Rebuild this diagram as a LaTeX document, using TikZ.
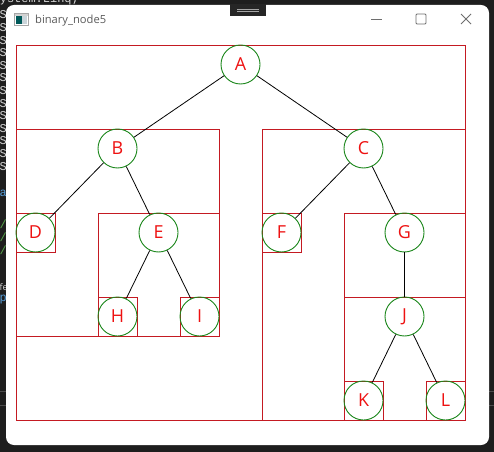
\documentclass[tikz,border=0pt]{standalone}
\usepackage{fontspec}
\setmainfont{Open Sans}
\newfontfamily\codefont{Liberation Mono}
\definecolor{bgdark}{HTML}{1E1E1E}
\definecolor{codegray}{HTML}{D4D4D4}
\definecolor{codeblue}{HTML}{569CD6}
\definecolor{codegreen}{HTML}{57A64A}
\definecolor{rectred}{HTML}{C41A22}
\definecolor{nodegreen}{HTML}{1A861A}
\definecolor{labelred}{HTML}{EE1111}
\definecolor{chromegray}{HTML}{6E6E6E}
\definecolor{titlegray}{HTML}{5A5A5A}
\tikzset{
  treenode/.style={circle, draw=nodegreen, line width=0.9bp, minimum size=39bp,
    inner sep=0pt, text=labelred, font=\fontsize{18}{18}\selectfont},
  edge/.style={draw=black, line width=0.8bp},
  boxline/.style={draw=rectred, line width=0.9bp},
  chrome/.style={draw=chromegray, line width=0.8bp},
  codetxt/.style={inner sep=0pt, anchor=west, font=\codefont\fontsize{12}{12}\selectfont}
}
\begin{document}
\begin{tikzpicture}[x=1bp,y=-1bp]
\useasboundingbox (0,0) rectangle (494,452);
% background editor
\fill[bgdark] (0,0) rectangle (494,452);
\draw[gray!60!black, line width=0.6bp] (0,391) -- (494,391);
\draw[gray!60!black, line width=0.6bp] (0,405) -- (494,405);
\node[codetxt, text=codegray] (topline) at (-7.5,-1) {System.Linq;};
\foreach \yy in {15,27.6,40.2,52.8,65.4,78,90.6,103.2,115.8,128.4,141,153.6,167}
  \node[codetxt, text=codegray] at (-0.5,\yy) {S};
\node[codetxt, text=codeblue] (ca) at (-0.5,193) {a};
\foreach \yy in {224,237,250}
  \node[codetxt, text=codegreen] at (-0.5,\yy) {/};
\node[codetxt, text=codegray, font=\fontsize{9}{9}\selectfont] (cf) at (-0.5,287) {fe};
\node[codetxt, text=codeblue] (cp) at (-0.5,300) {p};
% window
\fill[white, rounded corners=8bp] (6,5) rectangle (489,445);
% title bar handle
\fill[black!85] (230,4) rectangle (266,16);
\draw[gray!70, line width=0.6bp] (237,9) -- (259,9);
\draw[gray!70, line width=0.6bp] (237,11.5) -- (259,11.5);
% icon
\fill[white] (14.5,13.5) rectangle (28.5,25.5);
\fill[gray!35] (14.5,13.5) rectangle (28.5,16);
\fill[teal!70!black] (16,16.5) rectangle (21.5,24);
\fill[cyan!20!gray!40] (21.5,16.5) rectangle (27,24);
\draw[gray!70, line width=0.6bp] (14.5,13.5) rectangle (28.5,25.5);
\node[anchor=base west, inner sep=0pt, text=titlegray, font=\fontsize{11.2}{11.2}\selectfont] (title) at (35,24) {binary\_node5};
% window buttons
\draw[chrome] (371,19) -- (382,19);
\draw[chrome, rounded corners=1bp] (416,14) rectangle (426,24);
\draw[chrome] (461,14) -- (471,24);
\draw[chrome] (461,24) -- (471,14);
% subtree boxes
\draw[boxline] (16,45) rectangle (465,420);
\draw[boxline] (16,129) rectangle (219,336);
\draw[boxline] (262,129) rectangle (465,420);
\draw[boxline] (16,213) rectangle (55,252);
\draw[boxline] (98,213) rectangle (219,336);
\draw[boxline] (98,297) rectangle (137,336);
\draw[boxline] (180,297) rectangle (219,336);
\draw[boxline] (262,213) rectangle (301,252);
\draw[boxline] (344,213) rectangle (465,420);
\draw[boxline] (344,297) rectangle (465,420);
\draw[boxline] (344,381) rectangle (383,420);
\draw[boxline] (426,381) rectangle (465,420);
% nodes
\node[treenode] (A) at (240.5,64.5) {A};
\node[treenode] (B) at (117.5,148.5) {B};
\node[treenode] (C) at (363.5,148.5) {C};
\node[treenode] (D) at (35.5,232.5) {D};
\node[treenode] (E) at (158.5,232.5) {E};
\node[treenode] (F) at (281.5,232.5) {F};
\node[treenode] (G) at (404.5,232.5) {G};
\node[treenode] (H) at (117.5,316.5) {H};
\node[treenode] (I) at (199.5,316.5) {I};
\node[treenode] (J) at (404.5,316.5) {J};
\node[treenode] (K) at (363.5,400.5) {K};
\node[treenode] (L) at (445.5,400.5) {L};
% edges
\draw[edge] (A) -- (B);
\draw[edge] (A) -- (C);
\draw[edge] (B) -- (D);
\draw[edge] (B) -- (E);
\draw[edge] (E) -- (H);
\draw[edge] (E) -- (I);
\draw[edge] (C) -- (F);
\draw[edge] (C) -- (G);
\draw[edge] (G) -- (J);
\draw[edge] (J) -- (K);
\draw[edge] (J) -- (L);
\end{tikzpicture}
\end{document}
